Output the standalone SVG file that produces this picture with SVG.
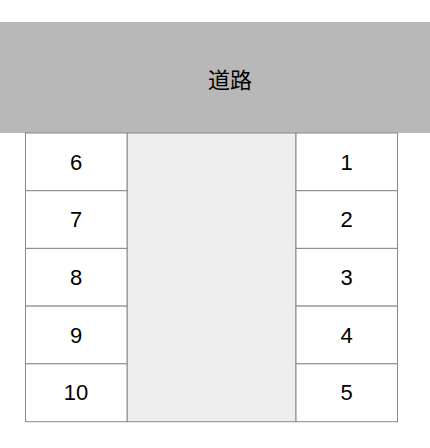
<svg xmlns="http://www.w3.org/2000/svg" width="430" height="448" viewBox="0 0 430 448">
<style>
.road{fill:#b8b8b8}
.lot{fill:#ffffff;stroke:#888888;stroke-width:1}
.aisle{fill:#eeeeee;stroke:#888888;stroke-width:1}
.t{font-family:"Liberation Sans",Arial,sans-serif;font-size:22px;fill:#000;text-anchor:middle;dominant-baseline:central}
.tj{font-family:"Noto Sans CJK JP","Noto Sans CJK SC",sans-serif;font-size:22px;fill:#000;text-anchor:middle;dominant-baseline:central}
</style>
<rect width="430" height="448" fill="#ffffff"/>
<g id="road"><rect class="road" x="0" y="22" width="430" height="111"/><text class="tj" x="230" y="77.5">道路</text></g>
<g id="aisle"><rect class="aisle" x="127" y="133" width="169" height="288.7"/></g>
<g id="lot6"><rect class="lot" x="25.5" y="133" width="101.5" height="57.7"/><text class="t" x="76" y="162">6</text></g>
<g id="lot7"><rect class="lot" x="25.5" y="190.7" width="101.5" height="57.7"/><text class="t" x="76" y="219.6">7</text></g>
<g id="lot8"><rect class="lot" x="25.5" y="248.4" width="101.5" height="57.7"/><text class="t" x="76" y="277.3">8</text></g>
<g id="lot9"><rect class="lot" x="25.5" y="306.1" width="101.5" height="57.7"/><text class="t" x="76" y="335">9</text></g>
<g id="lot10"><rect class="lot" x="25.5" y="363.8" width="101.5" height="57.9"/><text class="t" x="76" y="392.8">10</text></g>
<g id="lot1"><rect class="lot" x="296" y="133" width="101.5" height="57.7"/><text class="t" x="346.7" y="162">1</text></g>
<g id="lot2"><rect class="lot" x="296" y="190.7" width="101.5" height="57.7"/><text class="t" x="346.7" y="219.6">2</text></g>
<g id="lot3"><rect class="lot" x="296" y="248.4" width="101.5" height="57.7"/><text class="t" x="346.7" y="277.3">3</text></g>
<g id="lot4"><rect class="lot" x="296" y="306.1" width="101.5" height="57.7"/><text class="t" x="346.7" y="335">4</text></g>
<g id="lot5"><rect class="lot" x="296" y="363.8" width="101.5" height="57.9"/><text class="t" x="346.7" y="392.8">5</text></g>
</svg>
